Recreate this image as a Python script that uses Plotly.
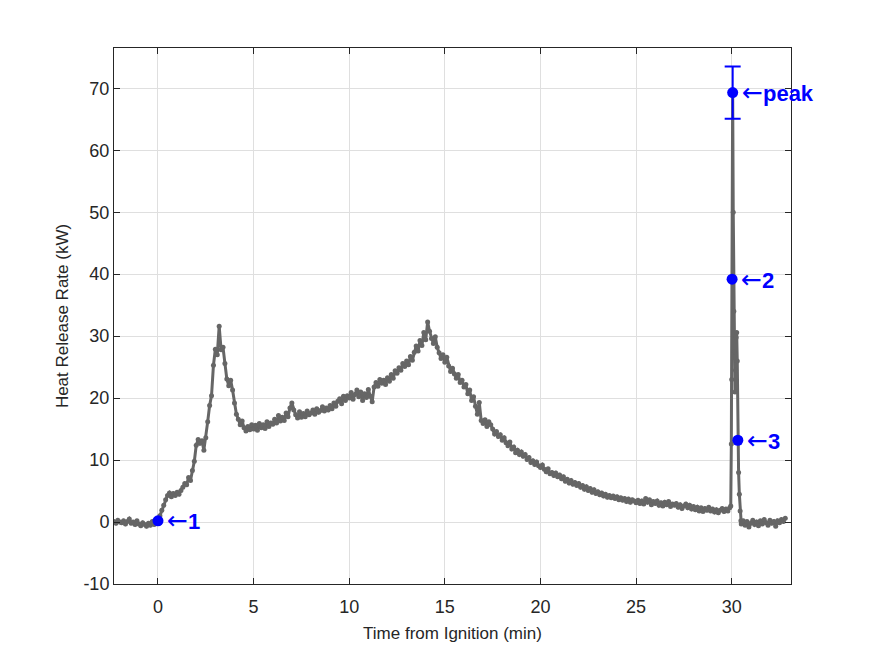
import numpy as np
import plotly.graph_objects as go

# ---------------- data ----------------
pre_start, pre_step = -2.3, 0.1
pre_vals = [0.1, -0.2, 0.3, 0.0, -0.1, 0.2, -0.3, 0.1, 0.5, -0.2, 0.0, -0.4, 0.2,
            -0.3, -0.6, -0.1, -0.4, -0.7, -0.2, -0.5, 0.1, -0.4, -0.2]

main_start, main_step = 0.0, 0.1
main_vals = [
    0.2, 1.0, 1.9, 2.7, 3.6, 4.3, 4.7, 4.1, 4.6, 4.3,
    4.8, 4.5, 5.1, 5.6, 6.2, 6.0, 7.2, 6.7, 8.3, 9.8,
    12.4, 13.3, 12.7, 13.1, 11.6, 13.6, 16.2, 18.8, 20.4, 25.3,
    27.9, 27.0, 31.6, 27.8, 28.2, 25.6, 23.1, 22.0, 22.9, 21.3,
    19.2, 17.4, 16.6, 15.7, 16.3, 15.2, 14.7, 15.4, 14.9, 15.7,
    15.0, 15.6, 14.8, 15.9, 15.2, 15.7, 15.1, 16.2, 15.4, 16.0,
    15.8, 16.6, 16.0, 17.2, 16.3, 16.9, 16.4, 17.6, 17.0, 18.4,
    19.2, 18.1, 17.3, 16.8, 17.8, 16.9, 17.5, 17.0, 17.9, 17.3,
    17.6, 18.1, 17.4, 18.3, 17.7, 18.0, 18.6, 17.9, 18.4, 18.1,
    18.8, 18.3, 19.2, 18.7, 19.5, 19.9, 19.1, 20.3, 19.6, 20.4,
    20.0, 20.9, 19.8, 20.6, 21.3, 20.2, 21.0, 19.6, 20.7, 20.1,
    21.4, 20.3, 19.4, 21.8, 22.5, 21.9, 23.0, 22.4, 22.9, 22.2,
    23.3, 22.7, 23.8, 23.2, 24.4, 24.0, 24.9, 24.5, 25.6, 25.1,
    26.0, 25.4, 26.7, 26.1, 27.4, 28.4, 27.6, 29.3, 28.5, 30.6,
    29.4, 32.3, 30.8, 29.6, 28.8, 29.9, 28.2, 27.3, 26.4, 27.0,
    25.8, 26.6, 25.2, 24.3, 24.8, 23.9, 23.2, 23.8, 22.5, 22.9,
    21.8, 22.2, 20.7, 21.3, 19.6, 20.2, 18.7, 17.4, 19.3, 16.4,
    15.9, 16.5, 15.4, 16.2, 15.7, 15.0, 14.2, 14.6, 13.8, 14.1,
    13.2, 13.6, 12.8, 12.3, 12.9, 11.8, 12.1, 11.2, 11.6, 10.9,
    11.3, 10.6, 10.9, 10.1, 10.4, 9.6, 9.9, 9.3, 9.7, 9.1,
    8.8, 9.2, 8.5, 8.1, 8.6, 7.8, 8.0, 7.5, 7.9, 7.3,
    7.6, 7.0, 7.3, 6.6, 6.9, 6.3, 6.7, 6.1, 6.4, 5.9,
    6.2, 5.6, 5.9, 5.3, 5.7, 5.1, 5.4, 4.8, 5.2, 4.6,
    4.9, 4.4, 4.7, 4.2, 4.5, 4.0, 4.3, 3.9, 4.2, 3.8,
    4.1, 3.6, 3.9, 3.5, 3.8, 3.3, 3.7, 3.2, 3.6, 3.4,
    3.1, 3.5, 3.0, 3.4, 2.9, 3.8, 3.2, 3.6, 2.8, 3.3,
    3.0, 3.4, 2.7, 3.1, 2.6, 3.2, 2.8, 3.3, 2.5, 2.9,
    2.7, 3.0, 2.4, 2.8, 2.2, 2.6, 2.9, 2.3, 2.7, 2.1,
    2.5, 2.0, 2.4, 1.8, 2.3, 1.7, 2.2, 1.9, 2.4, 1.8,
    2.1, 1.6, 2.0, 1.5, 1.9, 2.2, 1.7, 2.1, 1.8, 2.3,
]

spike_t = [29.95, 29.98, 30.00, 30.02, 30.05, 30.08, 30.11, 30.14, 30.17, 30.20,
           30.23, 30.26, 30.29, 30.32, 30.36, 30.40, 30.44, 30.48]
spike_vals = [2.6, 12.6, 23.0, 39.2, 69.3, 50.0, 34.0, 27.5, 21.0, 24.5,
              29.8, 30.6, 26.0, 13.2, 8.0, 4.5, 1.8, 0.2]

post_start, post_step = 30.5, 0.1
post_vals = [-0.3, 0.2, -0.5, 0.1, -0.8, -0.2, 0.3, -0.4, 0.0, -0.6, 0.2, -0.3,
             0.4, -0.1, -0.5, 0.3, -0.2, 0.1, -0.7, 0.2, -0.1, 0.4, 0.1, 0.6]

# labelled points
pt_names = ["1", "2", "3", "peak"]
pt_t = [0.0, 30.02, 30.32, 30.05]
pt_v = [0.2, 39.2, 13.2, 69.3]
peak_err = 4.2

x_ticks = [0, 5, 10, 15, 20, 25, 30]
y_ticks = [-10, 0, 10, 20, 30, 40, 50, 60, 70]
y_ticklabels = ["-10", "0", "10", "20", "30", "40", "50", "60", "70"]

# ---------------- assemble ----------------
def seq(start, step, n):
    return [round(start + i * step, 3) for i in range(n)]

t_all = (seq(pre_start, pre_step, len(pre_vals)) + seq(main_start, main_step, len(main_vals))
         + spike_t + seq(post_start, post_step, len(post_vals)))
v_all = pre_vals + main_vals + spike_vals + post_vals

FONT = "Liberation Sans, Arial, Helvetica, sans-serif"
TXT = "#262626"
BLUE = "#0000FF"

fig = go.Figure()
fig.add_trace(go.Scatter(
    x=t_all, y=v_all, mode="lines+markers",
    line=dict(color="#666666", width=3),
    marker=dict(color="#666666", size=5),
    showlegend=False, hoverinfo="skip"))

# peak with error bar
fig.add_trace(go.Scatter(
    x=[pt_t[3]], y=[pt_v[3]], mode="markers",
    marker=dict(color=BLUE, size=11),
    error_y=dict(type="constant", value=peak_err, color=BLUE, thickness=2, width=8),
    showlegend=False))
fig.add_trace(go.Scatter(
    x=pt_t[:3], y=pt_v[:3], mode="markers",
    marker=dict(color=BLUE, size=11), showlegend=False))

for name, tx, vy in zip(pt_names, pt_t, pt_v):
    fig.add_annotation(x=tx, y=vy, xref="x", yref="y",
                       text="<span style=\"font-family:'DejaVu Sans';font-weight:normal;font-size:25px\">\u2190</span><b>" + name + "</b>",
                       showarrow=False, xanchor="left", yanchor="middle", xshift=7,
                       font=dict(family=FONT, size=22, color=BLUE))

axis_common = dict(
    showline=True, linecolor=TXT, linewidth=1, mirror="ticks",
    ticks="inside", ticklen=6, tickcolor=TXT,
    showgrid=True, gridcolor="#dfdfdf", gridwidth=1, zeroline=False,
    tickfont=dict(family=FONT, size=18, color=TXT),
)

fig.update_layout(
    width=875, height=656,
    margin=dict(l=114, r=84, t=48, b=72),
    paper_bgcolor="white", plot_bgcolor="white",
    xaxis=dict(range=[-2.3, 33.1], tickvals=x_ticks, ticklabelstandoff=6,
               title=dict(text="Time from Ignition (min)", font=dict(family=FONT, size=17, color=TXT), standoff=11),
               **axis_common),
    yaxis=dict(range=[-10, 76.5], tickvals=y_ticks, ticktext=y_ticklabels,
               title=dict(text="Heat Release Rate (kW)", font=dict(family=FONT, size=17, color=TXT), standoff=10),
               **axis_common),
)

fig.write_html("out.html")
